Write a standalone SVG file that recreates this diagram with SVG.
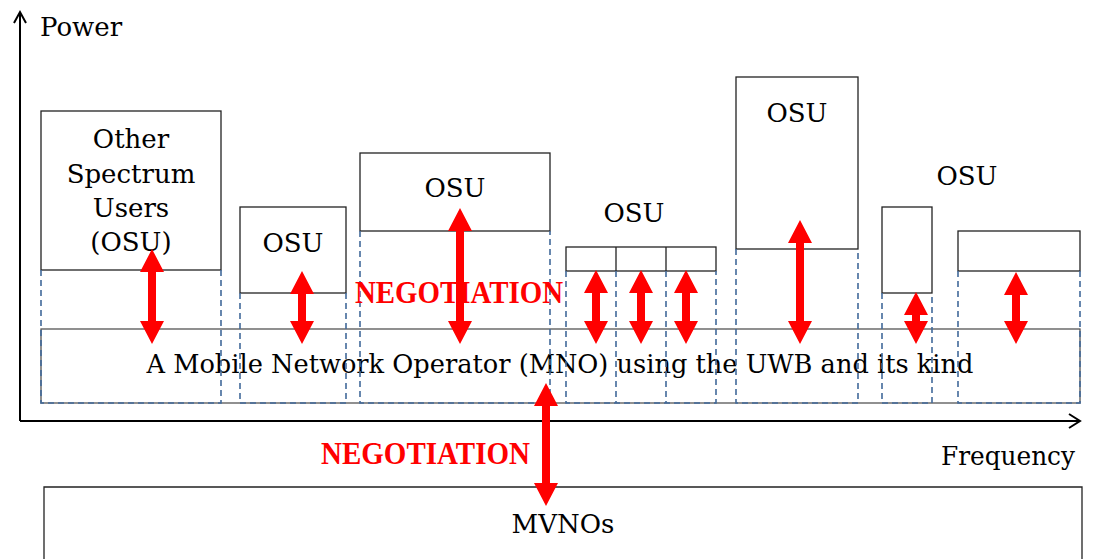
<svg xmlns="http://www.w3.org/2000/svg" width="1094" height="559" viewBox="0 0 1094 559">
<style>
.box{fill:none;stroke:#222;stroke-width:1.3}
.dash{fill:none;stroke:#41699a;stroke-width:1.6;stroke-dasharray:6 4}
.t{font-family:"DejaVu Serif","Liberation Serif",serif;font-size:26px;fill:#000;text-anchor:middle}
.neg{font-family:"Liberation Serif",serif;font-weight:bold;font-size:31px;fill:#ff0000}
.arr{fill:#ff0000;stroke:none}
.axis{fill:none;stroke:#000;stroke-width:2}
</style>
<rect width="1094" height="559" fill="#fff"/>
<g id="axes">
<path class="axis" d="M20,421 V12 M14,23 L20,12 L26,23"/>
<path class="axis" d="M20,421 H1080 M1069,414 L1080,421 L1069,428"/>
<text class="t" x="40" y="36" style="text-anchor:start">Power</text>
<text class="t" x="941" y="465" style="text-anchor:start" textLength="134" lengthAdjust="spacingAndGlyphs">Frequency</text>
</g>
<g id="mno">
<rect class="box" x="41" y="329" width="1039" height="74" style="stroke:#555"/>
<text class="t" x="560" y="373" textLength="827" lengthAdjust="spacingAndGlyphs">A Mobile Network Operator (MNO) using the UWB and its kind</text>
</g>
<g id="osu1">
<rect class="box" x="41" y="111" width="180" height="159"/>
<path class="dash" d="M41,270 V403 H221 V270"/>
<text class="t" x="131" y="148">Other</text>
<text class="t" x="131" y="183">Spectrum</text>
<text class="t" x="131" y="217">Users</text>
<text class="t" x="131" y="251">(OSU)</text>
</g>
<g id="osu2">
<rect class="box" x="240" y="207" width="106" height="86"/>
<path class="dash" d="M240,293 V403 H346 V293"/>
<text class="t" x="293" y="252">OSU</text>
</g>
<g id="osu3">
<rect class="box" x="360" y="153" width="190" height="78"/>
<path class="dash" d="M360,231 V403 H550 V231"/>
<text class="t" x="455" y="197">OSU</text>
</g>
<g id="osu4">
<rect class="box" x="566" y="247" width="150" height="24"/>
<path class="box" d="M616,247 V271 M666,247 V271"/>
<path class="dash" d="M566,271 V403 H716 V271 M616,271 V403 M666,271 V403"/>
<text class="t" x="634" y="222">OSU</text>
</g>
<g id="osu5">
<rect class="box" x="736" y="77" width="122" height="172"/>
<path class="dash" d="M736,249 V403 H858 V249"/>
<text class="t" x="797" y="122">OSU</text>
</g>
<g id="osu6">
<rect class="box" x="882" y="207" width="50" height="86"/>
<path class="dash" d="M882,293 V403 H932 V293"/>
</g>
<g id="osu7">
<rect class="box" x="958" y="231" width="122" height="40"/>
<path class="dash" d="M958,271 V403 H1080 V271"/>
<text class="t" x="967" y="185">OSU</text>
</g>
<g id="mvnos">
<path class="box" d="M44,559 V487 H1082 V559"/>
<text class="t" x="563" y="533">MVNOs</text>
</g>
<g id="labels">
<text class="neg" x="355" y="303" textLength="208" lengthAdjust="spacingAndGlyphs">NEGOTIATION</text>
<text class="neg" x="321" y="464" textLength="209" lengthAdjust="spacingAndGlyphs">NEGOTIATION</text>
</g>
<g id="connectors">
<path class="arr" d="M152,249 L164,272 L156,272 L156,321 L164,321 L152,344 L140,321 L148,321 L148,272 L140,272 Z"/>
<path class="arr" d="M302,271 L314,294 L306,294 L306,321 L314,321 L302,344 L290,321 L298,321 L298,294 L290,294 Z"/>
<path class="arr" d="M460,208 L472,231 L464,231 L464,321 L472,321 L460,344 L448,321 L456,321 L456,231 L448,231 Z"/>
<path class="arr" d="M596,270 L608,293 L600,293 L600,321 L608,321 L596,344 L584,321 L592,321 L592,293 L584,293 Z"/>
<path class="arr" d="M641,270 L653,293 L645,293 L645,321 L653,321 L641,344 L629,321 L637,321 L637,293 L629,293 Z"/>
<path class="arr" d="M686,270 L698,293 L690,293 L690,321 L698,321 L686,344 L674,321 L682,321 L682,293 L674,293 Z"/>
<path class="arr" d="M800,220 L812,243 L804,243 L804,321 L812,321 L800,344 L788,321 L796,321 L796,243 L788,243 Z"/>
<path class="arr" d="M916,292 L928,315 L920,315 L920,321 L928,321 L916,344 L904,321 L912,321 L912,315 L904,315 Z"/>
<path class="arr" d="M1016,272 L1028,295 L1020,295 L1020,321 L1028,321 L1016,344 L1004,321 L1012,321 L1012,295 L1004,295 Z"/>
<path class="arr" d="M546,383 L558,406 L550,406 L550,483 L558,483 L546,506 L534,483 L542,483 L542,406 L534,406 Z"/>
</g>
</svg>
